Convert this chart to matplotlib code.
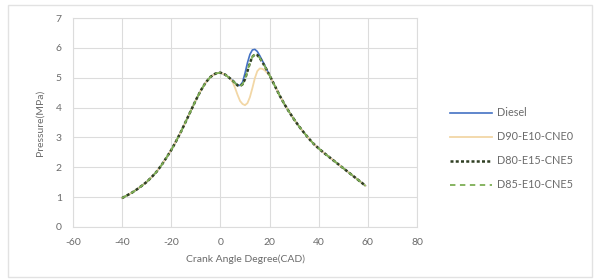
import matplotlib
matplotlib.use("Agg")
import matplotlib.pyplot as plt
from matplotlib.patches import Rectangle

crank = [-40, -38, -36, -34, -32, -30, -28, -26, -24, -22, -20, -18, -16, -14, -12, -10,
         -8, -6, -4, -2, 0, 2, 4, 5, 6, 7, 8, 9, 10, 11, 12, 13, 14, 15, 16, 17, 18,
         20, 22, 24, 26, 28, 30, 32, 34, 36, 38, 40, 42, 44, 46, 48, 50, 52, 54, 56, 58, 59]

rise = [0.97, 1.06, 1.15, 1.26, 1.38, 1.51, 1.67, 1.85, 2.07, 2.32, 2.58, 2.88, 3.20, 3.55,
        3.90, 4.25, 4.57, 4.84, 5.03, 5.14, 5.17, 5.10, 4.97]
fall = [5.08, 4.75, 4.42, 4.12, 3.85, 3.60, 3.37, 3.16, 2.96, 2.78, 2.63, 2.49, 2.36, 2.23,
        2.10, 1.97, 1.84, 1.71, 1.58, 1.45, 1.38]

diesel_mid = [4.90, 4.82, 4.76, 4.74, 4.85, 5.15, 5.50, 5.78, 5.93, 5.95, 5.88, 5.74, 5.58, 5.42]
d90_mid = [4.85, 4.65, 4.42, 4.22, 4.12, 4.08, 4.15, 4.35, 4.65, 4.98, 5.22, 5.31, 5.30, 5.25]
d80_mid = [4.90, 4.82, 4.74, 4.72, 4.78, 4.95, 5.22, 5.50, 5.70, 5.78, 5.76, 5.66, 5.53, 5.39]
d85_mid = [4.90, 4.82, 4.74, 4.72, 4.78, 4.95, 5.22, 5.50, 5.70, 5.78, 5.76, 5.66, 5.53, 5.39]

diesel = rise + diesel_mid + fall
d90 = rise + d90_mid + fall
d80 = rise + d80_mid + fall
d85 = rise + d85_mid + fall

labels = ["Diesel", "D90-E10-CNE0", "D80-E15-CNE5", "D85-E10-CNE5"]
xticks = [-60, -40, -20, 0, 20, 40, 60, 80]
yticks = [0, 1, 2, 3, 4, 5, 6, 7]

plt.rcParams['font.family'] = ['Lato', 'DejaVu Sans']
plt.rcParams['axes.unicode_minus'] = False
txt = '#6b6b6b'
grid = '#dcdcdc'

fig = plt.figure(figsize=(5.94, 2.79), dpi=100)
fig.patch.set_facecolor('white')
fig.patches.append(Rectangle((8/594, 2/279), 584/594, 272/279, transform=fig.transFigure,
                             fill=False, edgecolor='#e2e2e2', linewidth=1.0))
ax = fig.add_axes([73/594, 1 - 227/279, (417 - 73)/594, (227 - 18)/279])

ax.plot(crank, diesel, color='#4472C4', lw=1.2, label=labels[0], zorder=3)
ax.plot(crank, d90, color='#F2D7A6', lw=1.3, label=labels[1], zorder=3)
ax.plot(crank, d80, color='#2F3F22', lw=1.8, ls=(0, (1.2, 0.9)), label=labels[2], zorder=4)
ax.plot(crank, d85, color='#7DAF55', lw=1.3, ls=(0, (3, 2.5)), label=labels[3], zorder=5)

ax.set_xlim(-60, 80)
ax.set_ylim(0, 7)
ax.set_xticks(xticks)
ax.set_yticks(yticks)
ax.grid(True, color=grid, lw=0.8)
ax.set_axisbelow(True)
for s in ax.spines.values():
    s.set_color(grid)
    s.set_linewidth(0.8)
ax.tick_params(length=0, labelsize=7.5, colors=txt, pad=8)
ax.set_xlabel("Crank Angle Degree(CAD)", fontsize=7.5, color=txt, labelpad=5)
ax.set_ylabel("Pressure(MPa)", fontsize=7.5, color=txt, labelpad=8)

leg = fig.legend(loc='upper left', bbox_to_anchor=(446/594, 1 - 103/279), frameon=False,
                 fontsize=7.8, handlelength=3.8, handletextpad=0.5, labelspacing=1.2,
                 borderaxespad=0)
for t in leg.get_texts():
    t.set_color(txt)

fig.savefig("out.png", dpi=100, facecolor='white')
